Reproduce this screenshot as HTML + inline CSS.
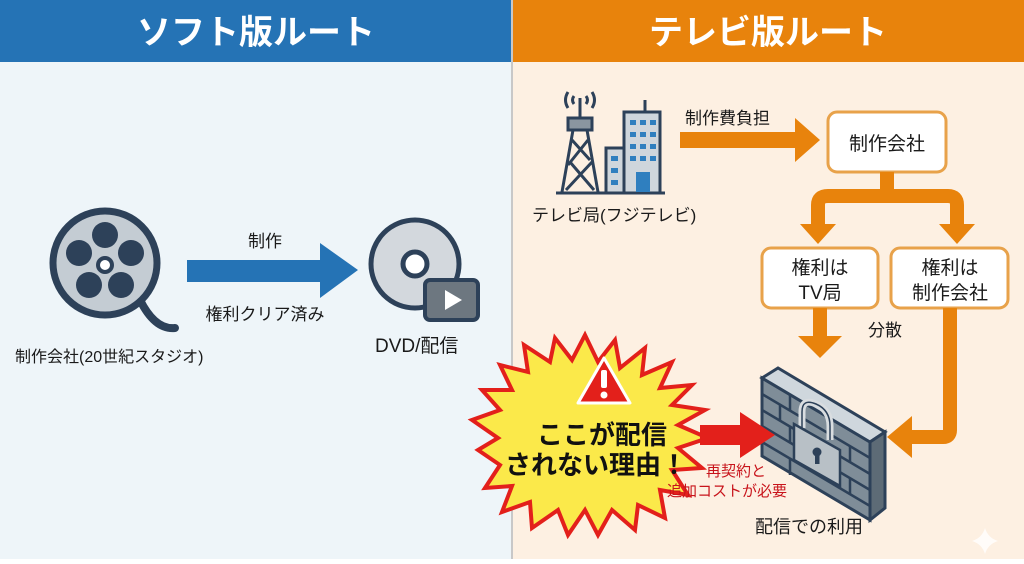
<!DOCTYPE html>
<html><head><meta charset="utf-8"><style>
body{margin:0;width:1024px;height:559px;overflow:hidden;font-family:"Liberation Sans","Noto Sans CJK JP",sans-serif;}
</style></head><body>
<svg width="1024" height="559" viewBox="0 0 1024 559" xmlns="http://www.w3.org/2000/svg" font-family="Liberation Sans, Noto Sans CJK JP, sans-serif">
<rect x="0" y="0" width="512" height="559" fill="#eef5f9"/>
<rect x="512" y="0" width="512" height="559" fill="#fdf0e2"/>
<rect x="0" y="0" width="511" height="62" fill="#2573b5"/>
<rect x="513" y="0" width="511" height="62" fill="#e8830c"/>
<rect x="511" y="0" width="2" height="559" fill="#c8c8c8"/>
<text x="256" y="44" font-size="34" font-weight="bold" fill="#fff" text-anchor="middle">ソフト版ルート</text>
<text x="768" y="44" font-size="34" font-weight="bold" fill="#fff" text-anchor="middle">テレビ版ルート</text>

<g>
<path d="M140 300 Q155 330 175 328" stroke="#2d4159" stroke-width="8" fill="none" stroke-linecap="round"/>
<circle cx="105" cy="263" r="52" fill="#c4ccd3" stroke="#2d4159" stroke-width="7"/>
<circle cx="105" cy="235" r="13" fill="#2d4159"/>
<circle cx="79" cy="253" r="13" fill="#2d4159"/>
<circle cx="131" cy="253" r="13" fill="#2d4159"/>
<circle cx="89" cy="285" r="13" fill="#2d4159"/>
<circle cx="121" cy="285" r="13" fill="#2d4159"/>
<circle cx="105" cy="265" r="7" fill="#fff" stroke="#2d4159" stroke-width="4"/>
</g>
<text x="15" y="362" font-size="16" fill="#1a1a1a">制作会社(20世紀スタジオ)</text>
<polygon points="187,260 320,260 320,243 358,270 320,298 320,282 187,282" fill="#2573b5"/>
<text x="265" y="247" font-size="17" fill="#1a1a1a" text-anchor="middle">制作</text>
<text x="265" y="320" font-size="17" fill="#1a1a1a" text-anchor="middle">権利クリア済み</text>
<circle cx="415" cy="264" r="44" fill="#d3d8dd" stroke="#2d4159" stroke-width="5"/>
<circle cx="415" cy="264" r="12" fill="#fff" stroke="#2d4159" stroke-width="5"/>
<rect x="425" y="280" width="53" height="40" rx="5" fill="#6d7780" stroke="#2d4159" stroke-width="4"/>
<polygon points="445,290 445,310 462,300" fill="#fff"/>
<text x="375" y="352" font-size="19" fill="#1a1a1a">DVD/配信</text>

<g stroke="#2d4159" stroke-width="3" fill="none">
<path d="M568 92 Q563 100 568 108 M592 92 Q597 100 592 108 M574 96 Q571 100 574 104 M586 96 Q589 100 586 104"/>
<line x1="580" y1="98" x2="580" y2="118"/>
<rect x="568" y="118" width="24" height="12" fill="#8a96a0"/>
<path d="M573 130 L562 192 M587 130 L598 192 M572 140 L590 160 M588 140 L568 165 M570 162 L594 190 M592 162 L566 190"/>
<line x1="556" y1="193" x2="665" y2="193"/>
</g>
<rect x="606" y="148" width="18" height="45" fill="#cfd6dc" stroke="#2d4159" stroke-width="3"/>
<rect x="624" y="112" width="36" height="81" fill="#cfd6dc" stroke="#2d4159" stroke-width="3"/>
<line x1="645" y1="100" x2="645" y2="112" stroke="#2d4159" stroke-width="3"/>
<g fill="#2f7fbf">
<rect x="630" y="120" width="6" height="5"/><rect x="640" y="120" width="6" height="5"/><rect x="650" y="120" width="6" height="5"/>
<rect x="630" y="132" width="6" height="5"/><rect x="640" y="132" width="6" height="5"/><rect x="650" y="132" width="6" height="5"/>
<rect x="630" y="144" width="6" height="5"/><rect x="640" y="144" width="6" height="5"/><rect x="650" y="144" width="6" height="5"/>
<rect x="630" y="156" width="6" height="5"/><rect x="640" y="156" width="6" height="5"/><rect x="650" y="156" width="6" height="5"/>
<rect x="611" y="156" width="7" height="5"/><rect x="611" y="168" width="7" height="5"/><rect x="611" y="180" width="7" height="5"/>
<rect x="636" y="172" width="14" height="20"/>
</g>
<text x="532" y="221" font-size="17" fill="#1a1a1a">テレビ局(フジテレビ)</text>
<text x="685" y="124" font-size="17" fill="#1a1a1a">制作費負担</text>
<polygon points="680,132 795,132 795,118 820,140 795,162 795,148 680,148" fill="#e8830c"/>
<rect x="828" y="112" width="118" height="60" rx="9" fill="#fff" stroke="#e8a24a" stroke-width="3"/>
<text x="887" y="150" font-size="19" fill="#1a1a1a" text-anchor="middle">制作会社</text>
<rect x="880" y="172" width="14" height="28" fill="#e8830c"/>
<path d="M818 226 L818 205 Q818 196 828 196 L948 196 Q957 196 957 205 L957 226" stroke="#e8830c" stroke-width="14" fill="none"/>
<polygon points="800,224 836,224 818,244" fill="#e8830c"/>
<polygon points="939,224 975,224 957,244" fill="#e8830c"/>
<rect x="762" y="248" width="116" height="60" rx="9" fill="#fff" stroke="#e8a24a" stroke-width="3"/>
<rect x="891" y="248" width="117" height="60" rx="9" fill="#fff" stroke="#e8a24a" stroke-width="3"/>
<text x="820" y="274" font-size="19" fill="#1a1a1a" text-anchor="middle">権利は</text>
<text x="820" y="299" font-size="19" fill="#1a1a1a" text-anchor="middle">TV局</text>
<text x="950" y="274" font-size="19" fill="#1a1a1a" text-anchor="middle">権利は</text>
<text x="950" y="299" font-size="19" fill="#1a1a1a" text-anchor="middle">制作会社</text>
<rect x="813" y="308" width="14" height="30" fill="#e8830c"/>
<polygon points="798,336 842,336 820,358" fill="#e8830c"/>
<text x="885" y="336" font-size="17" fill="#1a1a1a" text-anchor="middle">分散</text>
<path d="M950 308 L950 430 Q950 437 943 437 L910 437" stroke="#e8830c" stroke-width="14" fill="none"/>
<polygon points="912,416 912,458 887,437" fill="#e8830c"/>

<!-- wall -->
<polygon points="762,378 870,442 870,520 762,456" fill="#7f8d98" stroke="#2d4159" stroke-width="3"/>
<polygon points="762,378 778,368 885,432 870,442" fill="#cfd7dd" stroke="#2d4159" stroke-width="3"/>
<polygon points="870,442 885,432 885,508 870,520" fill="#5d6b76" stroke="#2d4159" stroke-width="3"/>
<g stroke="#2d4159" stroke-width="2.5">
<line x1="762" y1="394" x2="870" y2="458"/><line x1="762" y1="410" x2="870" y2="474"/><line x1="762" y1="426" x2="870" y2="490"/><line x1="762" y1="442" x2="870" y2="506"/>
<line x1="790" y1="395" x2="790" y2="411"/><line x1="830" y1="418" x2="830" y2="434"/>
<line x1="780" y1="405" x2="780" y2="421"/><line x1="850" y1="446" x2="850" y2="462"/>
<line x1="790" y1="427" x2="790" y2="443"/><line x1="790" y1="459" x2="790" y2="475"/><line x1="850" y1="478" x2="850" y2="494"/>
<line x1="875" y1="445" x2="875" y2="460" stroke-width="0"/>
</g>
<path d="M802 428 L802 412 Q802 398 816 404 Q830 410 830 426 L830 440" stroke="#d9dde0" stroke-width="7" fill="none"/>
<path d="M802 428 L802 412 Q802 398 816 404 Q830 410 830 426 L830 440" stroke="#2d4159" stroke-width="1.5" fill="none"/>
<polygon points="794,424 840,450 840,486 794,460" fill="#b8c0c6" stroke="#2d4159" stroke-width="2.5"/>
<circle cx="817" cy="452" r="4.5" fill="#2d4159"/><rect x="815" y="453" width="4.5" height="11" fill="#2d4159"/>
<text x="755" y="533" font-size="18" fill="#1a1a1a">配信での利用</text>

<polygon points="585,335 598,362 615,340 620,368 645,348 642,375 672,362 660,388 692,385 672,405 705,410 678,425 708,438 678,448 702,468 672,470 688,495 660,490 665,518 638,505 635,530 612,510 598,535 585,510 568,535 558,510 532,528 530,502 502,512 512,486 485,488 500,465 478,450 498,438 472,420 500,410 482,390 512,390 500,365 528,372 524,345 550,362 555,338 572,360" fill="#fbe94a" stroke="#e3201b" stroke-width="4"/>
<polygon points="604,358 630,403 578,403" fill="#e3201b" stroke="#fff" stroke-width="3" stroke-linejoin="round"/>
<rect x="601" y="370" width="6" height="18" rx="2" fill="#fff"/><circle cx="604" cy="395" r="3.5" fill="#fff"/>
<text x="602" y="444" font-size="26" font-weight="bold" fill="#111" text-anchor="middle">ここが配信</text>
<text x="596" y="474" font-size="26" font-weight="bold" fill="#111" text-anchor="middle">されない理由！</text>
<polygon points="700,425 740,425 740,412 775,435 740,458 740,445 700,445" fill="#e3201b"/>
<text x="706" y="476" font-size="15" fill="#c8141b">再契約と</text>
<text x="667" y="496" font-size="15" fill="#c8141b">追加コストが必要</text>
<path d="M985 528 Q988 538 998 541 Q988 544 985 554 Q982 544 972 541 Q982 538 985 528Z" fill="#fff" opacity="0.8"/>
</svg>
</body></html>
